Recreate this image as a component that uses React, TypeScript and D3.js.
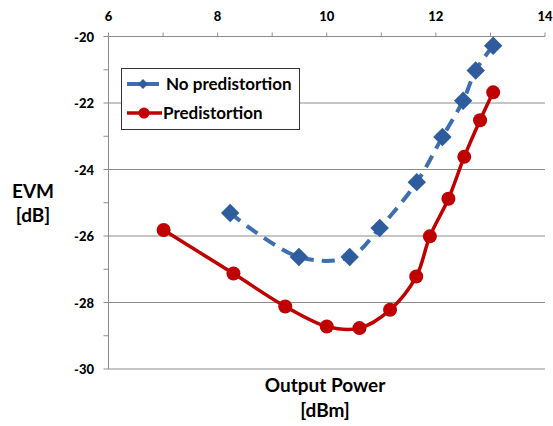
import { useRef, useEffect } from 'react'
import * as d3 from 'd3'

const noPdX = [8.23, 9.49, 10.42, 10.97, 11.65, 12.12, 12.5, 12.73, 13.05]
const noPdY = [-25.31, -26.63, -26.63, -25.76, -24.38, -23.02, -21.93, -21.02, -20.28]

const pdX = [7.01, 8.29, 9.24, 10.0, 10.6, 11.16, 11.64, 11.89, 12.23, 12.52, 12.81, 13.05]
const pdY = [-25.82, -27.13, -28.12, -28.72, -28.77, -28.22, -27.22, -26.01, -24.88, -23.62, -22.52, -21.68]

const xTicks = [6, 8, 10, 12, 14]
const yTicks = [-20, -22, -24, -26, -28, -30]
const seriesNames = ['No predistortion', 'Predistortion']

const W = 553
const H = 426
const FONT = 'Lato, "Open Sans", sans-serif'
const BLUE = '#3F6EB0'
const BLUE_DARK = '#2F5C9C'
const RED = '#C00000'

const App = () => {
  const ref = useRef<SVGSVGElement>(null)

  useEffect(() => {
    const svg = d3.select(ref.current)
    svg.selectAll('*').remove()

    const x = d3.scaleLinear().domain([6, 14]).range([108.5, 545])
    const y = d3.scaleLinear().domain([-30, -20]).range([369, 36.5])

    // gridlines
    svg.append('g')
      .selectAll('line')
      .data(yTicks.filter(d => d !== -20))
      .join('line')
      .attr('x1', x(6)).attr('x2', x(14))
      .attr('y1', d => y(d)).attr('y2', d => y(d))
      .attr('stroke', '#8c8c8c').attr('stroke-width', 1)

    // top x axis
    const xAxis = svg.append('g')
    xAxis.append('line')
      .attr('x1', x(6)).attr('x2', x(14))
      .attr('y1', y(-20)).attr('y2', y(-20))
      .attr('stroke', '#8c8c8c')
    xAxis.selectAll('line.tk')
      .data(d3.range(6, 14.01, 1))
      .join('line').attr('class', 'tk')
      .attr('x1', d => x(d)).attr('x2', d => x(d))
      .attr('y1', y(-20)).attr('y2', y(-20) - 4)
      .attr('stroke', '#8c8c8c')
    xAxis.selectAll('text')
      .data(xTicks)
      .join('text')
      .attr('x', d => x(d)).attr('y', 21)
      .attr('text-anchor', 'middle')
      .attr('font-family', FONT).attr('font-weight', 900).attr('font-size', 13)
      .text(d => d)

    // left y axis
    const yAxis = svg.append('g')
    yAxis.append('line')
      .attr('x1', x(6)).attr('x2', x(6))
      .attr('y1', y(-20)).attr('y2', y(-30))
      .attr('stroke', '#8c8c8c')
    yAxis.selectAll('line.tk')
      .data(d3.range(-30, -19.99, 1))
      .join('line').attr('class', 'tk')
      .attr('x1', x(6) - 5).attr('x2', x(6))
      .attr('y1', d => y(d)).attr('y2', d => y(d))
      .attr('stroke', '#8c8c8c')
    yAxis.selectAll('text')
      .data(yTicks)
      .join('text')
      .attr('x', 94).attr('y', d => y(d) + 5)
      .attr('text-anchor', 'end')
      .attr('font-family', FONT).attr('font-weight', 900).attr('font-size', 13)
      .text(d => d)

    // axis titles
    const title = (tx: number, ty: number, s: string) =>
      svg.append('text')
        .attr('x', tx).attr('y', ty)
        .attr('text-anchor', 'middle')
        .attr('font-family', FONT).attr('font-weight', 'bold').attr('font-size', 19)
        .text(s)
    title(33, 198, 'EVM')
    title(33, 222, '[dB]')
    title(325, 392, 'Output Power')
    title(325, 417, '[dBm]')

    const bluePts = noPdX.map((d, i) => [x(d), y(noPdY[i])] as [number, number])
    const redPts = pdX.map((d, i) => [x(d), y(pdY[i])] as [number, number])
    const path = d3.line().curve(d3.curveCatmullRom.alpha(0.5))

    // blue dashed series
    svg.append('path')
      .attr('d', path(bluePts))
      .attr('fill', 'none')
      .attr('stroke', BLUE).attr('stroke-width', 4)
      .attr('stroke-dasharray', '13,8')
    const diamond = d3.symbol().type(d3.symbolSquare).size(170)
    svg.append('g')
      .selectAll('path')
      .data(bluePts)
      .join('path')
      .attr('d', diamond())
      .attr('transform', d => `translate(${d[0]},${d[1]}) rotate(45)`)
      .attr('fill', BLUE_DARK)

    // red series
    svg.append('path')
      .attr('d', path(redPts))
      .attr('fill', 'none')
      .attr('stroke', RED).attr('stroke-width', 3.5)
    svg.append('g')
      .selectAll('circle')
      .data(redPts)
      .join('circle')
      .attr('cx', d => d[0]).attr('cy', d => d[1])
      .attr('r', 7)
      .attr('fill', RED)

    // legend
    const lg = svg.append('g')
    lg.append('rect')
      .attr('x', 121.5).attr('y', 68.5)
      .attr('width', 178).attr('height', 61)
      .attr('fill', 'white').attr('stroke', '#333').attr('stroke-width', 1)
    lg.append('line')
      .attr('x1', 127).attr('x2', 159).attr('y1', 84).attr('y2', 84)
      .attr('stroke', BLUE).attr('stroke-width', 4)
    lg.append('path')
      .attr('d', d3.symbol().type(d3.symbolSquare).size(50)())
      .attr('transform', 'translate(143,84) rotate(45)')
      .attr('fill', BLUE_DARK)
    lg.append('line')
      .attr('x1', 127).attr('x2', 162).attr('y1', 113).attr('y2', 113)
      .attr('stroke', RED).attr('stroke-width', 3.5)
    lg.append('circle')
      .attr('cx', 144).attr('cy', 113).attr('r', 5.5)
      .attr('fill', RED)
    lg.selectAll('text')
      .data(seriesNames)
      .join('text')
      .attr('x', (d, i) => (i === 0 ? 166 : 163))
      .attr('y', (d, i) => (i === 0 ? 90 : 119))
      .attr('font-family', FONT).attr('font-weight', 'bold').attr('font-size', 17)
      .text(d => d)
  }, [])

  return (
    <svg
      ref={ref}
      width={W}
      height={H}
      style={{ position: 'absolute', left: 0, top: 0, background: 'white' }}
    />
  )
}

export default App
